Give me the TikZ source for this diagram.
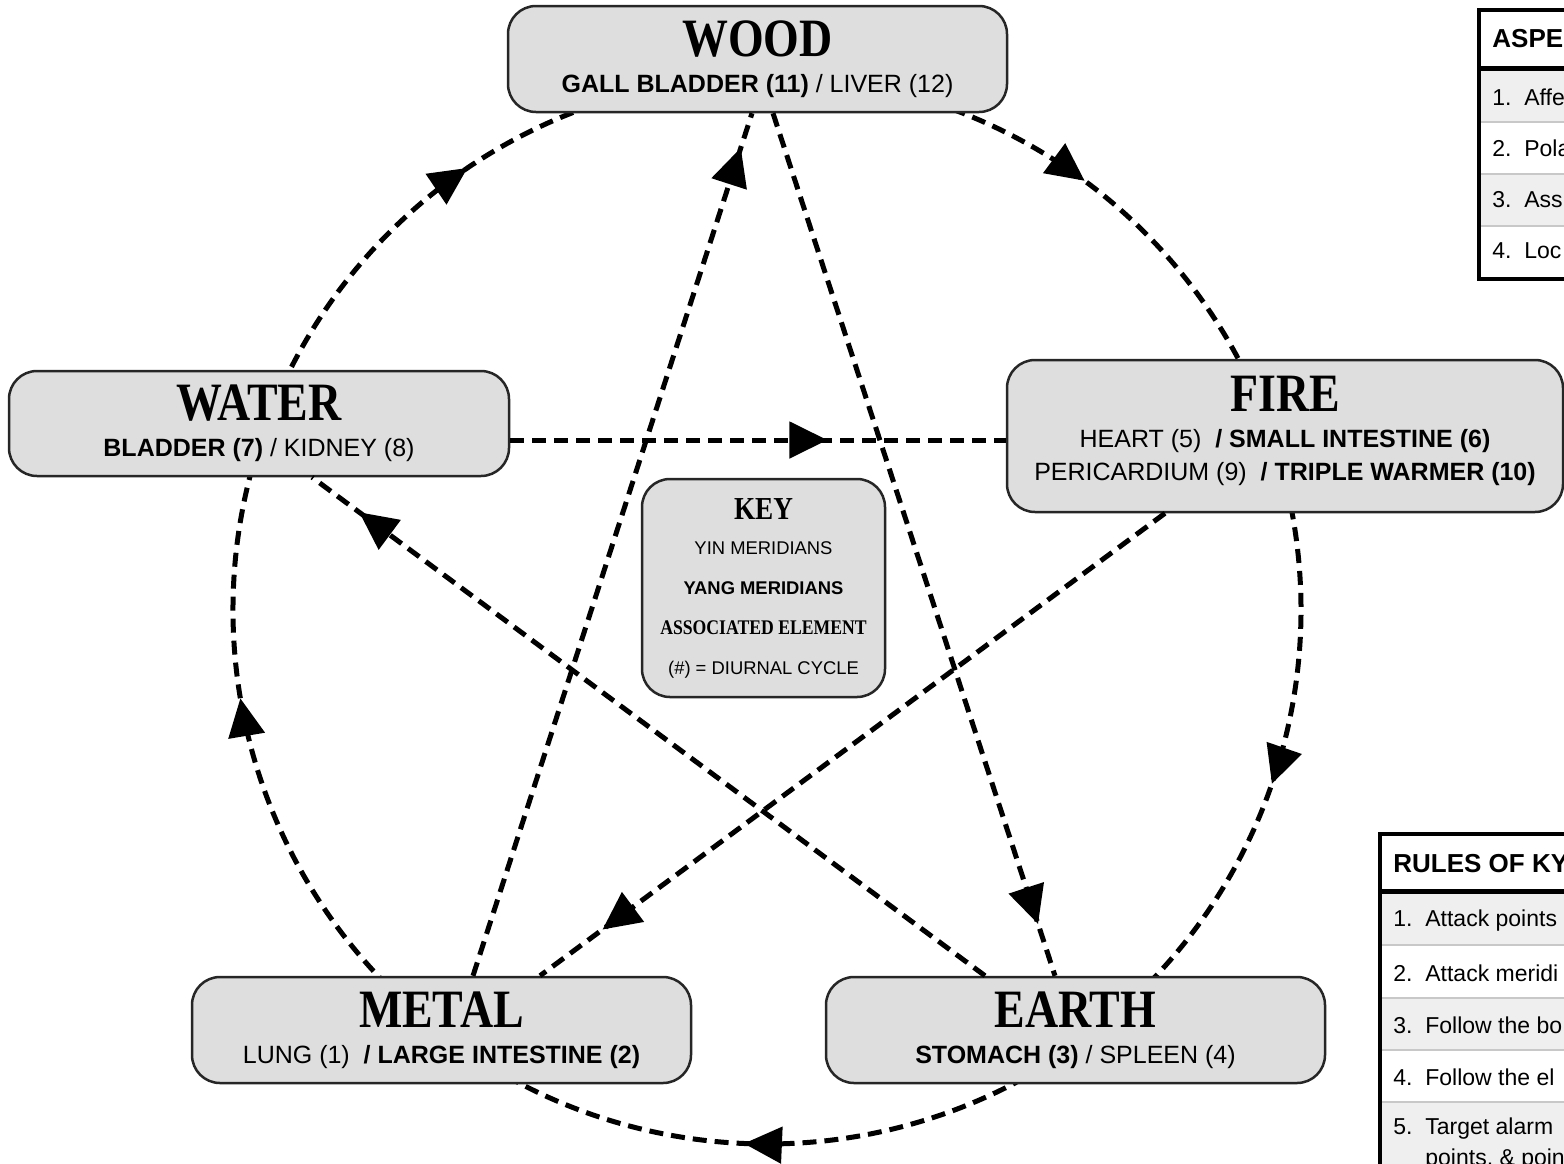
\documentclass[tikz,border=0pt]{standalone}
\usepackage{fontspec}
\setmainfont{Liberation Sans}
\newfontfamily\brushfont{Liberation Serif}[FakeStretch=0.85]
\usetikzlibrary{arrows.meta,decorations.markings}
\definecolor{boxgray}{HTML}{DEDEDE}
\definecolor{rowgray}{HTML}{EFEFEF}
\definecolor{rulegray}{HTML}{C8C8C8}
\newcommand{\elemname}[1]{{\brushfont\bfseries\fontsize{27}{27}\selectfont #1}}

\begin{document}
\begin{tikzpicture}[x=0.5pt,y=-0.5pt,
    elem/.style={draw=black!85,fill=boxgray,line width=1.25pt,rounded corners=14pt,
      minimum width=249.5pt,minimum height=53pt,align=center,inner sep=0pt,
      font=\fontsize{12.5}{18}\selectfont},
    flow/.style={line width=2.5pt,dash pattern=on 7pt off 4pt},
    tipat/.style={postaction={decorate},decoration={markings,
      mark=at position #1 with {\arrow{Triangle[length=19pt,width=18pt]}}}},
    rowtext/.style={anchor=west,inner sep=0pt,font=\fontsize{11.5}{13}\selectfont},
    headtext/.style={rowtext,font=\bfseries\fontsize{13}{15}\selectfont}]
 \useasboundingbox (0,0) rectangle (1564,1163);
 \coordinate (hub) at (767,610);
 \foreach \a/\b/\p in {-91/-16/0.5,-16/54/0.5,54/128/0.52,128/200/0.59,200/269/0.52}
  \draw[flow,tipat=\p] ([shift={(\a:534)}]hub) arc[start angle=\a,end angle=\b,radius=534];
 \node[elem] (wood) at (757.5,59) {\elemname{WOOD}\\ \textbf{GALL BLADDER (11)} / LIVER (12)};
 \node[elem,minimum width=250pt,minimum height=52.5pt] (water) at (259,423.5)
  {\elemname{WATER}\\ \textbf{BLADDER (7)} / KIDNEY (8)};
 \node[elem,minimum width=278pt,minimum height=76pt] (fire) at (1285,436)
  {\elemname{FIRE}\\ HEART (5)\ \ \textbf{/ SMALL INTESTINE (6)}\\[-1.5pt]
   PERICARDIUM (9)\ \ \textbf{/ TRIPLE WARMER (10)}\rule[-8pt]{0pt}{0pt}};
 \node[elem] (metal) at (441.5,1030) {\elemname{METAL}\\ LUNG (1)\ \ \textbf{/ LARGE INTESTINE (2)}};
 \node[elem] (earth) at (1075.5,1030) {\elemname{EARTH}\\ \textbf{STOMACH (3)} / SPLEEN (4)};
 \node[elem,minimum width=121.5pt,minimum height=109pt,font=\fontsize{9.2}{20}\selectfont] (key) at (763.5,588)
  {{\brushfont\bfseries\fontsize{16}{16}\selectfont KEY}\\[-2.5pt] YIN MERIDIANS\\ \textbf{YANG MERIDIANS}\\
   {\brushfont\bfseries\fontsize{10.4}{12}\selectfont ASSOCIATED ELEMENT}\\ (\#) = DIURNAL CYCLE};
 \draw[flow,tipat=0.96] ([shift={(31.5,0)}]metal.north) -- ([shift={(-5.5,0)}]wood.south);
 \draw[flow,tipat=0.94] ([shift={(15.5,0)}]wood.south) -- ([shift={(-20.5,0)}]earth.north);
 \draw[flow,tipat=0.93] ([shift={(-90.5,0)}]earth.north) -- ([shift={(53,0)}]water.south);
 \draw[flow,tipat=0.64] ([shift={(0,16.5)}]water.east) -- ([shift={(0,4)}]fire.west);
 \draw[flow,tipat=0.90] ([shift={(-120,0)}]fire.south) -- ([shift={(98.5,0)}]metal.north);
 \begin{scope}
  \clip (0,0) rectangle (1564,1163);
  \fill[white] (1479,10) rectangle (1600,279);
  \fill[rowgray] (1479,70) rectangle (1600,122) (1479,174) rectangle (1600,226);
  \draw[rulegray,line width=0.6pt] (1479,122) -- (1600,122) (1479,174) -- (1600,174) (1479,226) -- (1600,226);
  \draw[line width=2.2pt] (1600,10) -- (1479,10) -- (1479,279) -- (1600,279);
  \draw[line width=2.5pt] (1479,68) -- (1600,68);
  \node[headtext] (asphead) at (1492,39) {ASPE};
  \foreach \t [count=\i] in {1.\ \ Affe,2.\ \ Pola,3.\ \ Ass,4.\ \ Loc}
   \node[rowtext] (asp\i) at (1492,{97+(\i-1)*51.3}) {\t};
  \fill[white] (1380,834) rectangle (1600,1170);
  \fill[rowgray] (1380,893) rectangle (1600,945) (1380,998) rectangle (1600,1050) (1380,1102) rectangle (1600,1170);
  \draw[rulegray,line width=0.6pt] (1380,945) -- (1600,945) (1380,998) -- (1600,998)
   (1380,1050) -- (1600,1050) (1380,1102) -- (1600,1102);
  \draw[line width=2.2pt] (1600,834) -- (1380,834) -- (1380,1170);
  \draw[line width=2.5pt] (1380,891) -- (1600,891);
  \node[headtext] (rulehead) at (1393,864) {RULES OF KY};
  \foreach \t [count=\i] in {1.\ \ Attack points,2.\ \ Attack meridi,3.\ \ Follow the bo,4.\ \ Follow the el,5.\ \ Target alarm}
   \node[rowtext] (rule\i) at (1393,{921+(\i-1)*52}) {\t};
  \node[rowtext] (rule5b) at (1425,1160) {points, \& poin};
 \end{scope}
\end{tikzpicture}
\end{document}
